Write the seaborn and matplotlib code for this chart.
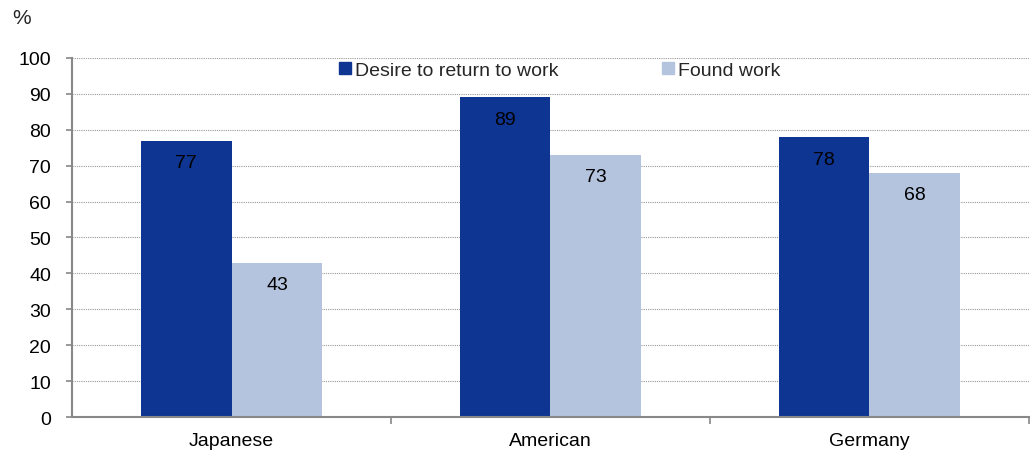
import pandas as pd
import numpy as np
import matplotlib
matplotlib.use("Agg")
import matplotlib.pyplot as plt
import seaborn as sns
from matplotlib.lines import Line2D

# Data
groups = ["Japanese", "American", "Germany"]
series = ["Desire to return to work", "Found work"]
desire = [77, 89, 78]
found = [43, 73, 68]
colors = ["#0D3591", "#B4C3DE"]

df = pd.DataFrame({
    "Group": groups * 2,
    "Series": [series[0]] * 3 + [series[1]] * 3,
    "Value": desire + found,
})

sns.set_theme(style="white")
plt.rcParams["font.family"] = ["Liberation Sans", "DejaVu Sans"]

fig = plt.figure(figsize=(10.32, 4.52), dpi=100)
ax = fig.add_axes([0.0698, 0.0752, 0.9272, 0.7943])

sns.barplot(data=df, x="Group", y="Value", hue="Series", order=groups,
            hue_order=series, palette=colors, width=0.57, saturation=1,
            linewidth=0, legend=False, ax=ax)

ax.set_ylim(0, 100)
ax.set_xlim(-0.5, 2.5)
ax.set_yticks(np.arange(0, 101, 10))
ax.yaxis.grid(True, linestyle=(0, (1, 1)), color="#999999", linewidth=0.8)
ax.set_axisbelow(True)
ax.set_xlabel("")
ax.set_ylabel("")

for side in ["top", "right"]:
    ax.spines[side].set_visible(False)
for side in ["left", "bottom"]:
    ax.spines[side].set_color("#888888")
    ax.spines[side].set_linewidth(1.5)

ax.tick_params(axis="y", which="major", left=True, length=4, width=1.2,
               color="#888888", labelsize=14, labelcolor="black", pad=11)
ax.tick_params(axis="x", which="major", length=0, labelsize=14,
               labelcolor="black", pad=11)
ax.set_xticks([0.5, 1.5, 2.5], minor=True)
ax.tick_params(axis="x", which="minor", bottom=True, length=5, width=1.2,
               color="#888888")

# Value labels inside the bars near the top
for container in ax.containers:
    ax.bar_label(container, labels=[f"{v:.0f}" for v in container.datavalues],
                 label_type="edge", padding=-22, fontsize=14, color="black")

handles = [Line2D([0], [0], marker="s", linestyle="", markersize=8,
                  markerfacecolor=c, markeredgecolor=c) for c in colors]
ax.legend(handles, series, loc="center", bbox_to_anchor=(0.510, 0.967),
          ncol=2, frameon=False, fontsize=14, handlelength=0.5,
          handletextpad=0.25, columnspacing=5.4)

fig.text(0.012, 0.958, "%", fontsize=15, ha="left", va="center")

fig.savefig("out.png", dpi=100)
